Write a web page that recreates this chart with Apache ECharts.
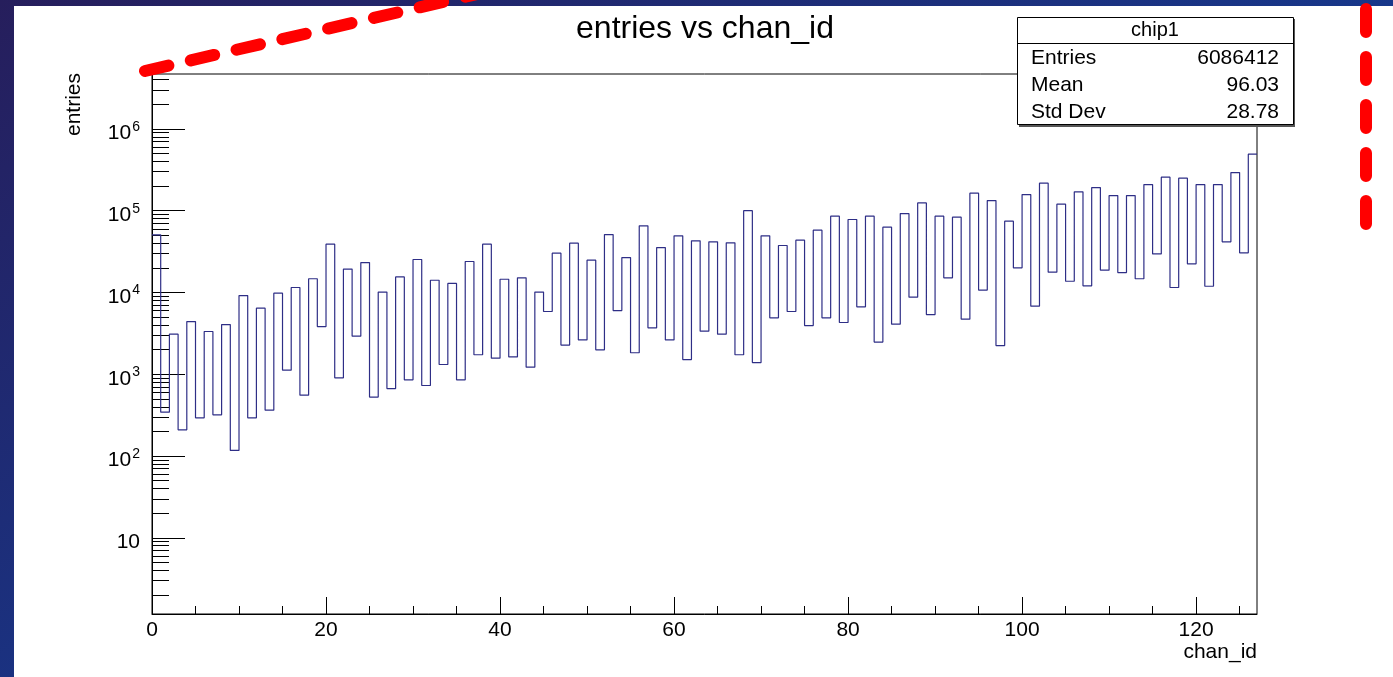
<!DOCTYPE html>
<html>
<head>
<meta charset="utf-8">
<script src="https://cdn.jsdelivr.net/npm/echarts@6/dist/echarts.min.js"></script>
<style>
html,body{margin:0;padding:0;background:#1d2a6e;}
#c{width:1393px;height:677px;}
</style>
</head>
<body>
<div id="c"></div>
<script>
// ---- data ----
const chartTitle = 'entries vs chan_id';
const xAxisName = 'chan_id';
const yAxisName = 'entries';
const histName = 'chip1';
const statLabels = ['Entries', 'Mean', 'Std Dev'];
const statValues = ['6086412', '96.03', '28.78'];

// entries per chan_id bin (bin i covers [i, i+1))
const entries = [
  50600, 344, 3090, 209, 4410, 293, 3330, 319, 4050, 117,
  9160, 293, 6430, 364, 9800, 1120, 11500, 555, 14700, 3830,
  38900, 904, 19300, 2920, 23200, 525, 10100, 668, 15500, 855,
  25300, 728, 14100, 1315, 12900, 855, 23900, 1730, 38900, 1570,
  14500, 1630, 15100, 1220, 10100, 5850, 30200, 2270, 40000, 2630,
  24800, 1990, 51000, 6010, 26700, 1830, 65200, 3690, 35400, 2630,
  49200, 1510, 42800, 3360, 41600, 3090, 40400, 1730, 100000, 1390,
  49200, 4890, 37500, 5850, 43600, 3940, 57700, 4890, 85600, 4290,
  78000, 6670, 85600, 2470, 62800, 4090, 92200, 8750, 124500, 5370,
  85600, 15100, 83300, 4710, 163500, 10700, 133000, 2240, 74300, 20000,
  157400, 6800, 216800, 17700, 120000, 13700, 170000, 12050, 191700, 18700,
  153000, 17500, 153000, 14700, 208500, 29600, 256600, 11500, 249500, 22400,
  208500, 11900, 208500, 41600, 292300, 30500, 491000
];

const xMajorTicks = [0, 20, 40, 60, 80, 100, 120];
const xMinorTicks = [5, 10, 15, 25, 30, 35, 45, 50, 55, 65, 70, 75, 85, 90, 95, 105, 110, 115, 125];
const yMajorTicks = [10, 100, 1000, 10000, 100000, 1000000];
const yMinorTicks = [
  2, 3, 4, 5, 6, 7, 8, 9,
  20, 30, 40, 50, 60, 70, 80, 90,
  200, 300, 400, 500, 600, 700, 800, 900,
  2000, 3000, 4000, 5000, 6000, 7000, 8000, 9000,
  20000, 30000, 40000, 50000, 60000, 70000, 80000, 90000,
  200000, 300000, 400000, 500000, 600000, 700000, 800000, 900000,
  2000000, 3000000, 4000000
];
const xMin = 0, xMax = 127;
const yMin = 1.17, yMax = 4.69e6;

// ---- chart ----
const FONT = '"Liberation Sans", Arial, Helvetica, sans-serif';
const chart = echarts.init(document.getElementById('c'), null, {renderer: 'canvas'});

const stepData = entries.map((v, i) => [xMin + i, v]);
stepData.push([xMin + entries.length, entries[entries.length - 1]]);

function yLabel(v) {
  const e = Math.round(Math.log10(v));
  if (e === 1) return '{n|10}';
  return '{n|10}{e|' + e + '}';
}

const grid = {left: 152, top: 74, right: 136, bottom: 63};

const option = {
  animation: false,
  backgroundColor: 'transparent',
  grid: Object.assign({show: true, borderColor: '#000', borderWidth: 1, backgroundColor: '#fff'}, grid),
  xAxis: [{
    type: 'value', min: xMin, max: xMax, interval: 20,
    axisLine: {show: true, onZero: false, lineStyle: {color: '#000', width: 1}},
    axisTick: {show: true, inside: true, length: 17, customValues: xMajorTicks, lineStyle: {color: '#000'}},
    axisLabel: {customValues: xMajorTicks, margin: 6, color: '#000', fontSize: 21, fontFamily: FONT},
    splitLine: {show: false}
  }, {
    type: 'value', min: xMin, max: xMax, position: 'bottom',
    axisLine: {show: false},
    axisTick: {show: true, inside: true, length: 8, customValues: xMinorTicks, lineStyle: {color: '#000'}},
    axisLabel: {show: false},
    splitLine: {show: false}
  }],
  yAxis: [{
    type: 'log', logBase: 10, min: yMin, max: yMax,
    axisLine: {show: true, onZero: false, lineStyle: {color: '#000', width: 1}},
    axisTick: {show: true, inside: true, length: 33, customValues: yMajorTicks, lineStyle: {color: '#000'}},
    axisLabel: {
      customValues: yMajorTicks, margin: 12, formatter: yLabel, padding: [6, 0, 0, 0],
      rich: {
        n: {fontSize: 21, fontFamily: FONT, color: '#000', lineHeight: 24, verticalAlign: 'bottom'},
        e: {fontSize: 14, fontFamily: FONT, color: '#000', lineHeight: 24, verticalAlign: 'top', padding: [0, 0, 0, 1]}
      }
    },
    splitLine: {show: false}
  }, {
    type: 'log', logBase: 10, min: yMin, max: yMax, position: 'left',
    axisLine: {show: false},
    axisTick: {show: true, inside: true, length: 17, customValues: yMinorTicks, lineStyle: {color: '#000'}},
    axisLabel: {show: false},
    splitLine: {show: false}
  }],
  series: [{
    type: 'line', step: 'end', symbol: 'none',
    xAxisIndex: 0, yAxisIndex: 0,
    data: stepData,
    lineStyle: {color: '#2e2e86', width: 1.2},
    z: 3
  }],
  graphic: [
    // slide background and white picture panel
    {type: 'rect', z: -20, silent: true, shape: {x: 0, y: 0, width: 1393, height: 677},
     style: {fill: {type: 'linear', x: 0, y: 0, x2: 0.3, y2: 1,
       colorStops: [{offset: 0, color: '#261e5c'}, {offset: 1, color: '#16398e'}]}}},
    {type: 'rect', z: -19, silent: true, shape: {x: 14, y: 6, width: 1379, height: 671}, style: {fill: '#fff'}},
    // title
    {type: 'text', z: 10, x: 705, y: 29, style: {text: chartTitle, font: '32px ' + FONT, fill: '#000', align: 'center', verticalAlign: 'middle'}},
    // axis names
    {type: 'text', z: 10, x: 74, y: 73, rotation: Math.PI / 2,
     style: {text: yAxisName, font: '21px ' + FONT, fill: '#000', align: 'right', verticalAlign: 'middle'}},
    {type: 'text', z: 10, x: 1257, y: 652,
     style: {text: xAxisName, font: '21px ' + FONT, fill: '#000', align: 'right', verticalAlign: 'middle'}},
    // stats box
    {type: 'rect', z: 9, shape: {x: 1019, y: 19, width: 276, height: 108}, style: {fill: '#555', stroke: null}},
    {type: 'rect', z: 10, shape: {x: 1017.5, y: 17.5, width: 276, height: 107}, style: {fill: '#fff', stroke: '#000', lineWidth: 1}},
    {type: 'line', z: 11, shape: {x1: 1017.5, y1: 43.5, x2: 1293.5, y2: 43.5}, style: {stroke: '#000', lineWidth: 1}},
    {type: 'text', z: 11, x: 1155, y: 30, style: {text: histName, font: '20px ' + FONT, fill: '#000', align: 'center', verticalAlign: 'middle'}},
    ...statLabels.map((t, i) => ({type: 'text', z: 11, x: 1031, y: 58.5 + i * 26.7,
      style: {text: t, font: '21px ' + FONT, fill: '#000', align: 'left', verticalAlign: 'middle'}})),
    ...statValues.map((t, i) => ({type: 'text', z: 11, x: 1279, y: 58.5 + i * 26.7,
      style: {text: t, font: '21px ' + FONT, fill: '#000', align: 'right', verticalAlign: 'middle'}})),
    // red dashed annotation strokes
    {type: 'polyline', z: 20, silent: true, shape: {points: [[145, 71], [490, -9]]},
     style: {stroke: '#f00', lineWidth: 12, lineCap: 'round', lineDash: [24, 23], fill: null}},
    {type: 'polyline', z: 20, silent: true, shape: {points: [[1366, 9], [1366, 226]]},
     style: {stroke: '#f00', lineWidth: 12, lineCap: 'round', lineDash: [23, 25], fill: null}}
  ]
};
chart.setOption(option);
</script>
</body>
</html>
